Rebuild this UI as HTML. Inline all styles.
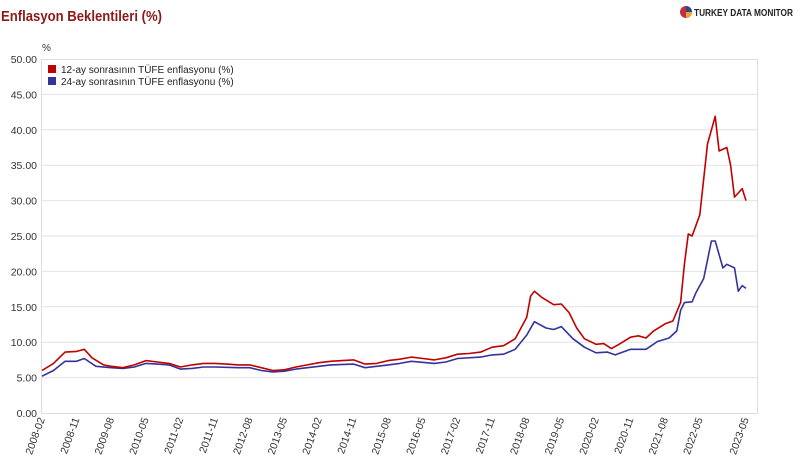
<!DOCTYPE html>
<html><head><meta charset="utf-8"><style>
body{margin:0;background:#fff;width:800px;height:470px;overflow:hidden;font-family:"Liberation Sans",sans-serif}
</style></head><body>
<svg id="chart" width="800" height="470" xmlns="http://www.w3.org/2000/svg" font-family="Liberation Sans, sans-serif">
<text x="1" y="21" font-size="14.5" font-weight="bold" fill="#8b1a1a" textLength="161" lengthAdjust="spacingAndGlyphs">Enflasyon Beklentileri (%)</text>
<g>
<circle cx="686" cy="12" r="6" fill="#c03040"/><path d="M686 12 L686 6 A6 6 0 0 1 692 12 Z" fill="#2a4a8a"/><path d="M686 12 L692 12 A6 6 0 0 1 686 18 Z" fill="#f0a030"/>
<text x="694" y="16" font-size="10" font-weight="bold" fill="#222" textLength="99" lengthAdjust="spacingAndGlyphs">TURKEY DATA MONITOR</text></g>
<text x="42" y="51" font-size="10" fill="#333">%</text>
<rect x="41.5" y="59.5" width="716" height="354" fill="#fff" stroke="#ddd"/>
<g id="grid"></g><g id="yticks"></g><g id="xticks"></g><g id="lines"></g>
<g>
<g><rect x="48" y="65" width="8" height="8" fill="#c00000"/><text x="61" y="73" font-size="10" fill="#222">12-ay sonrasının TÜFE enflasyonu (%)</text></g>
<g><rect x="48" y="77" width="8" height="8" fill="#333399"/><text x="61" y="85" font-size="10" fill="#222">24-ay sonrasının TÜFE enflasyonu (%)</text></g>
</g>
</svg>
<script>
const yTicks=[0,5,10,15,20,25,30,35,40,45,50];
const xTickLabels=["2008-02","2008-11","2009-08","2010-05","2011-02","2011-11","2012-08","2013-05","2014-02","2014-11","2015-08","2016-05","2017-02","2017-11","2018-08","2019-05","2020-02","2020-11","2021-08","2022-05","2023-05"];
const dates12=["2008-02","2008-05","2008-08","2008-11","2009-01","2009-03","2009-06","2009-08","2009-11","2010-02","2010-05","2010-08","2010-11","2011-02","2011-05","2011-08","2011-11","2012-02","2012-05","2012-08","2012-11","2013-02","2013-05","2013-08","2013-11","2014-02","2014-05","2014-08","2014-11","2015-02","2015-05","2015-08","2015-11","2016-02","2016-05","2016-08","2016-11","2017-02","2017-05","2017-08","2017-11","2018-02","2018-05","2018-08","2018-09","2018-10","2018-12","2019-03","2019-05","2019-07","2019-09","2019-11","2020-02","2020-04","2020-06","2020-08","2020-11","2021-01","2021-03","2021-05","2021-08","2021-10","2021-12","2022-01","2022-02","2022-03","2022-05","2022-07","2022-09","2022-10","2022-12","2023-01","2023-02","2023-04","2023-05"];
const values12=[6.0,7.0,8.6,8.7,9.0,7.8,6.8,6.6,6.4,6.8,7.4,7.2,7.0,6.5,6.8,7.0,7.0,6.9,6.8,6.8,6.4,6.0,6.1,6.5,6.8,7.1,7.3,7.4,7.5,6.9,7.0,7.4,7.6,7.9,7.7,7.5,7.8,8.3,8.4,8.6,9.3,9.5,10.5,13.5,16.5,17.2,16.3,15.3,15.4,14.2,12.0,10.5,9.7,9.8,9.1,9.7,10.7,10.9,10.6,11.6,12.6,13.0,15.6,21.0,25.3,25.0,28.0,38.0,41.9,37.0,37.5,35.0,30.5,31.7,30.0];
const dates24=["2008-02","2008-05","2008-08","2008-11","2009-01","2009-04","2009-08","2009-11","2010-02","2010-05","2010-08","2010-11","2011-02","2011-05","2011-08","2011-11","2012-05","2012-08","2012-11","2013-02","2013-05","2013-08","2013-11","2014-05","2014-11","2015-02","2015-08","2015-11","2016-02","2016-08","2016-11","2017-02","2017-08","2017-11","2018-02","2018-05","2018-08","2018-10","2019-01","2019-03","2019-05","2019-08","2019-11","2020-02","2020-05","2020-07","2020-11","2021-03","2021-06","2021-09","2021-11","2021-12","2022-01","2022-03","2022-04","2022-06","2022-08","2022-09","2022-11","2022-12","2023-02","2023-03","2023-04","2023-05"];
const values24=[5.2,6.0,7.3,7.3,7.7,6.6,6.4,6.3,6.5,7.0,6.9,6.8,6.2,6.3,6.5,6.5,6.4,6.4,6.0,5.8,5.9,6.2,6.4,6.8,6.9,6.4,6.8,7.0,7.3,7.0,7.2,7.7,7.9,8.2,8.3,9.0,11.0,12.9,12.0,11.8,12.2,10.5,9.3,8.5,8.6,8.2,9.0,9.0,10.1,10.6,11.6,14.5,15.6,15.7,17.0,19.0,24.3,24.3,20.5,21.0,20.5,17.2,18.0,17.6];
const NS="http://www.w3.org/2000/svg";
const X0=42,X1=746,Y0=413,Y1=59,yMax=50;
function mIdx(d){const [y,m]=d.split("-").map(Number);return (y-2008)*12+(m-2);}
const total=mIdx("2023-05");
function xs(d){return X0+(X1-X0)*mIdx(d)/total;}
function ys(v){return Y0-(Y0-Y1)*v/yMax;}
function mk(tag,attrs,parent){const e=document.createElementNS(NS,tag);for(const k in attrs)e.setAttribute(k,attrs[k]);parent.appendChild(e);return e;}
const grid=document.getElementById('grid'),yt=document.getElementById('yticks'),xt=document.getElementById('xticks'),lines=document.getElementById('lines');
yTicks.forEach(v=>{
  if(v>0&&v<50){const g=mk('line',{x1:X0,x2:757,y1:ys(v),y2:ys(v),stroke:'#e2e2e2','stroke-width':1},grid);
  
  }
  const t=mk('text',{x:37,y:ys(v)+4,'font-size':10.5,fill:'#333','text-anchor':'end'},yt);
  t.textContent=v.toFixed(2);
  
  
});
xTickLabels.forEach(d=>{
  const x=xs(d);
  const t=mk('text',{x:0,y:0,'font-size':10.5,fill:'#333','text-anchor':'end',transform:`translate(${x+3},${Y0+6}) rotate(-70)`},xt);
  t.textContent=d;
  
  
});
function series(dates,vals,color,name){
  const p=mk('polyline',{points:dates.map((d,i)=>xs(d).toFixed(1)+','+ys(vals[i]).toFixed(1)).join(' '),fill:'none',stroke:color,'stroke-width':1.6,'stroke-linejoin':'round'},lines);
  
  
}
series(dates24,values24,'#333399','series-24m-line');
series(dates12,values12,'#c00000','series-12m-line');
</script>
</body></html>
